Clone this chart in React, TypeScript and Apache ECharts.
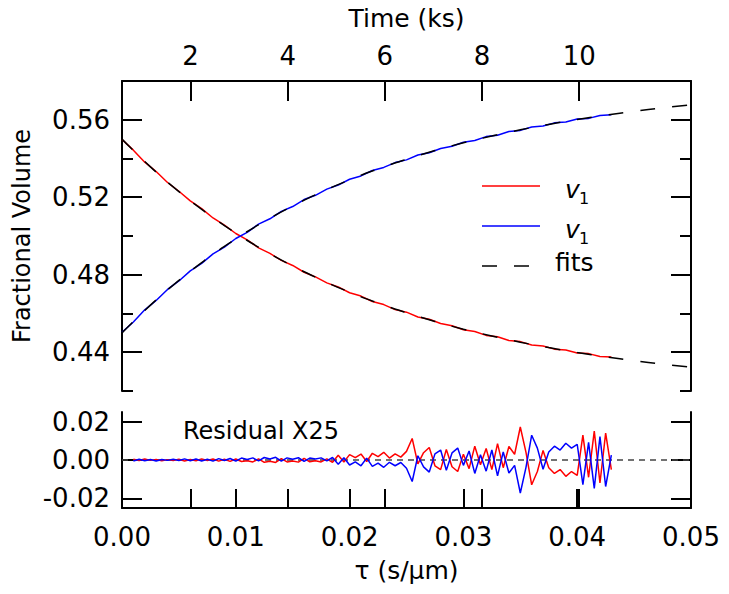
import { useEffect, useRef } from "react";
import * as echarts from "echarts";

// ---- data ----
const dataTau = [
  0.000, 0.001, 0.002, 0.003, 0.004, 0.005, 0.006, 0.007, 0.008, 0.009,
  0.010, 0.011, 0.012, 0.013, 0.014, 0.015, 0.016, 0.017, 0.018, 0.019,
  0.020, 0.021, 0.022, 0.023, 0.024, 0.025, 0.026, 0.027, 0.028, 0.029,
  0.030, 0.031, 0.032, 0.033, 0.034, 0.035, 0.036, 0.037, 0.038, 0.039,
  0.040, 0.041, 0.042, 0.043,
];
const v1Red = [
  0.5498, 0.5443, 0.5381, 0.5333, 0.5276, 0.5231, 0.5181, 0.5141, 0.5093, 0.5056,
  0.5013, 0.4980, 0.4939, 0.4910, 0.4874, 0.4848, 0.4813, 0.4789, 0.4758, 0.4737,
  0.4707, 0.4690, 0.4662, 0.4646, 0.4620, 0.4607, 0.4582, 0.4570, 0.4548, 0.4537,
  0.4516, 0.4507, 0.4487, 0.4480, 0.4461, 0.4455, 0.4437, 0.4432, 0.4416, 0.4412,
  0.4396, 0.4393, 0.4378, 0.4375,
];
const v1Blue = [
  0.4503, 0.4556, 0.4619, 0.4667, 0.4724, 0.4768, 0.4820, 0.4859, 0.4908, 0.4943,
  0.4987, 0.5019, 0.5061, 0.5089, 0.5127, 0.5152, 0.5188, 0.5210, 0.5242, 0.5263,
  0.5293, 0.5310, 0.5338, 0.5354, 0.5379, 0.5393, 0.5418, 0.5430, 0.5452, 0.5463,
  0.5484, 0.5493, 0.5513, 0.5520, 0.5539, 0.5545, 0.5563, 0.5568, 0.5584, 0.5588,
  0.5604, 0.5607, 0.5622, 0.5626,
];
const fitTau = [
  0.0, 0.0025, 0.005, 0.0075, 0.01, 0.0125, 0.015, 0.0175, 0.02, 0.0225, 0.025,
  0.0275, 0.03, 0.0325, 0.035, 0.0375, 0.04, 0.0425, 0.045, 0.0475, 0.05,
];
const fitRed = [
  0.5500, 0.5357, 0.5229, 0.5116, 0.5015, 0.4925, 0.4845, 0.4774, 0.4710, 0.4654, 0.4604,
  0.4559, 0.4519, 0.4484, 0.4452, 0.4424, 0.4399, 0.4377, 0.4357, 0.4339, 0.4323,
];
const fitBlue = [
  0.4500, 0.4643, 0.4771, 0.4884, 0.4985, 0.5075, 0.5155, 0.5226, 0.5290, 0.5346, 0.5396,
  0.5441, 0.5481, 0.5516, 0.5548, 0.5576, 0.5601, 0.5623, 0.5643, 0.5661, 0.5677,
];
const residTau = [
  0.0010, 0.0015, 0.0020, 0.0025, 0.0030, 0.0035, 0.0040, 0.0045, 0.0050, 0.0055,
  0.0060, 0.0065, 0.0070, 0.0075, 0.0080, 0.0085, 0.0090, 0.0095, 0.0100, 0.0105,
  0.0110, 0.0115, 0.0120, 0.0125, 0.0130, 0.0135, 0.0140, 0.0145, 0.0150, 0.0155,
  0.0160, 0.0165, 0.0170, 0.0175, 0.0180, 0.0185, 0.0190, 0.0195, 0.0200, 0.0205,
  0.0210, 0.0215, 0.0220, 0.0225, 0.0230, 0.0235, 0.0240, 0.0245, 0.0250, 0.0255,
  0.0260, 0.0265, 0.0270, 0.0275, 0.0280, 0.0285, 0.0290, 0.0295, 0.0300, 0.0305,
  0.0310, 0.0315, 0.0320, 0.0325, 0.0330, 0.0335, 0.0340, 0.0345, 0.0350, 0.0355,
  0.0360, 0.0365, 0.0370, 0.0375, 0.0380, 0.0385, 0.0390, 0.0395, 0.0400, 0.0405,
  0.0410, 0.0415, 0.0420, 0.0425, 0.0430,
];
const residRed = [
  0.0004, -0.0003, 0.0005, -0.0002, 0.0003, -0.0004, 0.0002, -0.0003, 0.0004, -0.0005,
  0.0003, -0.0004, 0.0006, -0.0003, 0.0005, -0.0006, 0.0004, -0.0007, 0.0005, -0.0008,
  -0.0004, -0.0010, 0.0006, -0.0012, -0.0006, -0.0013, 0.0007, -0.0010, -0.0005, -0.0011,
  0.0008, -0.0009, -0.0004, -0.0010, 0.0006, -0.0012, 0.0025, -0.0010, 0.0028, 0.0012,
  0.0031, -0.0008, 0.0035, 0.0018, 0.0040, 0.0010, 0.0032, 0.0015, 0.0045, 0.0112,
  -0.0020, 0.0038, 0.0065, -0.0030, -0.0050, 0.0055, -0.0035, -0.0060, 0.0030, -0.0045,
  0.0072, -0.0025, 0.0060, -0.0050, 0.0085, -0.0040, 0.0070, 0.0030, 0.0172, 0.0040,
  -0.0129, -0.0060, 0.0050, -0.0040, -0.0070, -0.0050, -0.0085, -0.0060, -0.0080, 0.0130,
  -0.0090, 0.0150, -0.0120, 0.0140, -0.0050,
];
const residBlue = [
  -0.0005, 0.0004, -0.0004, 0.0003, -0.0005, 0.0003, -0.0002, 0.0004, -0.0003, 0.0006,
  -0.0004, 0.0005, -0.0005, 0.0004, -0.0006, 0.0007, -0.0003, 0.0008, -0.0006, 0.0010,
  0.0003, 0.0011, -0.0005, 0.0013, 0.0005, 0.0014, -0.0006, 0.0011, 0.0004, 0.0012,
  -0.0007, 0.0010, 0.0005, 0.0011, -0.0005, 0.0013, -0.0022, 0.0012, -0.0026, -0.0010,
  -0.0030, 0.0010, -0.0033, -0.0016, -0.0038, -0.0012, -0.0030, -0.0013, -0.0043, -0.0112,
  0.0022, -0.0036, -0.0063, 0.0032, 0.0052, -0.0053, 0.0037, 0.0062, -0.0028, 0.0047,
  -0.0070, 0.0027, -0.0058, 0.0052, -0.0083, 0.0042, -0.0068, -0.0028, -0.0172, -0.0038,
  0.0129, 0.0062, -0.0048, 0.0042, 0.0072, 0.0052, 0.0087, 0.0062, 0.0082, -0.0128,
  0.0092, -0.0148, 0.0122, -0.0138, 0.0025,
];
const zeroLineTau = [0, 0.05];
const zeroLineValue = [0, 0];

const tauTicks = [0, 0.01, 0.02, 0.03, 0.04, 0.05];
const tauInnerTicks = [0.01, 0.02, 0.03, 0.04];
const timeTicks = [2, 4, 6, 8, 10];
const volumeMajorTicks = [0.44, 0.48, 0.52, 0.56];
const volumeMinorTicks = [0.42, 0.46, 0.5, 0.54];
const residualTicks = [-0.02, 0, 0.02];

// axis ranges
const TAU_MIN = 0;
const TAU_MAX = 0.05;
const TIME_MIN = 0.59; // ks at tau = 0
const TIME_MAX = 12.3; // ks at tau = 0.05
const VOL_MIN = 0.42;
const VOL_MAX = 0.58;
const RES_MIN = -0.025;
const RES_MAX = 0.025;

const FONT = "DejaVu Sans";
const BLACK = "#000000";

const zip = (xs: number[], ys: number[]) => xs.map((x, i) => [x, ys[i]]);

export default function App() {
  const ref = useRef<HTMLDivElement>(null);

  useEffect(() => {
    if (!ref.current) return;
    const chart = echarts.init(ref.current, null, { renderer: "svg" });

    const axisLine = { show: true, onZero: false, lineStyle: { color: BLACK, width: 2 } };
    const labelStyle = { color: BLACK, fontFamily: FONT, fontSize: 26 };

    const yMajor = (gridIndex: number, position: "left" | "right", labels: boolean, min: number, max: number, ticks: number[], name?: string) => ({
      type: "value",
      gridIndex,
      position,
      min,
      max,
      name: name ?? "",
      nameLocation: "middle",
      nameGap: 88,
      nameRotate: 90,
      nameTextStyle: { color: BLACK, fontFamily: FONT, fontSize: 24 },
      axisLine,
      axisTick: { show: true, inside: true, length: 20, customValues: ticks, lineStyle: { color: BLACK, width: 2 } },
      axisLabel: labels
        ? { show: true, customValues: ticks, margin: 12, ...labelStyle, formatter: (v: number) => v.toFixed(2) }
        : { show: false },
      splitLine: { show: false },
    });
    const yMinor = (gridIndex: number, position: "left" | "right", min: number, max: number, ticks: number[]) => ({
      type: "value",
      gridIndex,
      position,
      min,
      max,
      axisLine: { show: false, onZero: false },
      axisTick: { show: true, inside: true, length: 11, customValues: ticks, lineStyle: { color: BLACK, width: 2 } },
      axisLabel: { show: false },
      splitLine: { show: false },
    });
    // bottom inner ticks of the residual panel, drawn as split lines of a thin strip grid
    const stripAxis = (min: number, max: number, ticks: number[]) => ({
      type: "value",
      gridIndex: 2,
      position: "bottom",
      min,
      max,
      axisLine: { show: false, onZero: false },
      axisTick: { show: false, customValues: ticks },
      axisLabel: { show: false, customValues: ticks },
      splitLine: { show: true, lineStyle: { color: BLACK, width: 2 } },
    });

    const option: any = {
      animation: false,
      grid: [
        { left: 122, right: 38, top: 81, height: 310 },
        { left: 122, right: 38, top: 412, height: 96 },
        { left: 122, right: 38, top: 489, height: 19 },
      ],
      xAxis: [
        { type: "value", gridIndex: 0, min: TAU_MIN, max: TAU_MAX, show: false },
        {
          type: "value",
          gridIndex: 0,
          position: "top",
          min: TIME_MIN,
          max: TIME_MAX,
          name: "Time (ks)",
          nameLocation: "middle",
          nameGap: 50,
          nameTextStyle: { color: BLACK, fontFamily: FONT, fontSize: 25 },
          axisLine,
          axisTick: { show: true, inside: true, length: 20, customValues: timeTicks, lineStyle: { color: BLACK, width: 2 } },
          axisLabel: { show: true, customValues: timeTicks, margin: 12, ...labelStyle },
          splitLine: { show: false },
        },
        {
          type: "value",
          gridIndex: 1,
          position: "bottom",
          min: TAU_MIN,
          max: TAU_MAX,
          name: "τ (s/μm)",
          nameLocation: "middle",
          nameGap: 50,
          nameTextStyle: { color: BLACK, fontFamily: FONT, fontSize: 25 },
          axisLine,
          axisTick: { show: true, inside: true, length: 19, customValues: tauInnerTicks, lineStyle: { color: BLACK, width: 2 } },
          axisLabel: { show: true, customValues: tauTicks, margin: 16, ...labelStyle, formatter: (v: number) => v.toFixed(2) },
          splitLine: { show: false },
        },
        stripAxis(TAU_MIN, TAU_MAX, tauInnerTicks),
        stripAxis(TIME_MIN, TIME_MAX, timeTicks),
      ],
      yAxis: [
        yMajor(0, "left", true, VOL_MIN, VOL_MAX, volumeMajorTicks, "Fractional Volume"),
        yMinor(0, "left", VOL_MIN, VOL_MAX, volumeMinorTicks),
        yMajor(0, "right", false, VOL_MIN, VOL_MAX, volumeMajorTicks),
        yMinor(0, "right", VOL_MIN, VOL_MAX, volumeMinorTicks),
        yMajor(1, "left", true, RES_MIN, RES_MAX, residualTicks),
        yMajor(1, "right", false, RES_MIN, RES_MAX, residualTicks),
        { type: "value", gridIndex: 2, min: 0, max: 1, show: false },
      ],
      series: [
        {
          name: "v1 red", type: "line", xAxisIndex: 0, yAxisIndex: 0,
          data: zip(dataTau, v1Red), symbol: "none",
          lineStyle: { color: "#ff0000", width: 1.5 },
        },
        {
          name: "v1 blue", type: "line", xAxisIndex: 0, yAxisIndex: 0,
          data: zip(dataTau, v1Blue), symbol: "none",
          lineStyle: { color: "#0000ff", width: 1.5 },
        },
        {
          name: "fit red", type: "line", xAxisIndex: 0, yAxisIndex: 0,
          data: zip(fitTau, fitRed), symbol: "none", smooth: true,
          lineStyle: { color: BLACK, width: 1.5, type: [15, 17] },
        },
        {
          name: "fit blue", type: "line", xAxisIndex: 0, yAxisIndex: 0,
          data: zip(fitTau, fitBlue), symbol: "none", smooth: true,
          lineStyle: { color: BLACK, width: 1.5, type: [15, 17] },
        },
        {
          name: "zero", type: "line", xAxisIndex: 2, yAxisIndex: 4,
          data: zip(zeroLineTau, zeroLineValue), symbol: "none",
          lineStyle: { color: "#444444", width: 1.5, type: [6, 5] },
        },
        {
          name: "residual red", type: "line", xAxisIndex: 2, yAxisIndex: 4,
          data: zip(residTau, residRed), symbol: "none",
          lineStyle: { color: "#ff0000", width: 1.5 },
        },
        {
          name: "residual blue", type: "line", xAxisIndex: 2, yAxisIndex: 4,
          data: zip(residTau, residBlue), symbol: "none",
          lineStyle: { color: "#0000ff", width: 1.5 },
        },
      ],
      graphic: [
        // legend
        { type: "line", shape: { x1: 482, y1: 186, x2: 540, y2: 186 }, style: { stroke: "#ff0000", lineWidth: 1.5 } },
        { type: "line", shape: { x1: 482, y1: 226, x2: 540, y2: 226 }, style: { stroke: "#0000ff", lineWidth: 1.5 } },
        { type: "line", shape: { x1: 482, y1: 266, x2: 530, y2: 266 }, style: { stroke: BLACK, lineWidth: 1.5, lineDash: [15, 17] } },
        { type: "text", x: 565, y: 189, style: { text: "v", fontFamily: FONT, fontSize: 25, fontStyle: "italic", fill: BLACK, textVerticalAlign: "middle" } },
        { type: "text", x: 579, y: 198, style: { text: "1", fontFamily: FONT, fontSize: 16, fill: BLACK, textVerticalAlign: "middle" } },
        { type: "text", x: 565, y: 229, style: { text: "v", fontFamily: FONT, fontSize: 25, fontStyle: "italic", fill: BLACK, textVerticalAlign: "middle" } },
        { type: "text", x: 579, y: 238, style: { text: "1", fontFamily: FONT, fontSize: 16, fill: BLACK, textVerticalAlign: "middle" } },
        { type: "text", x: 555, y: 262, style: { text: "fits", fontFamily: FONT, fontSize: 25, fill: BLACK, textVerticalAlign: "middle" } },
        // residual annotation
        { type: "text", x: 183, y: 431, style: { text: "Residual X25", fontFamily: FONT, fontSize: 24, fill: BLACK, textVerticalAlign: "middle" } },
      ],
    };

    chart.setOption(option);
    return () => chart.dispose();
  }, []);

  return <div ref={ref} style={{ width: 729, height: 594, position: "absolute", left: 0, top: 0 }} />;
}
